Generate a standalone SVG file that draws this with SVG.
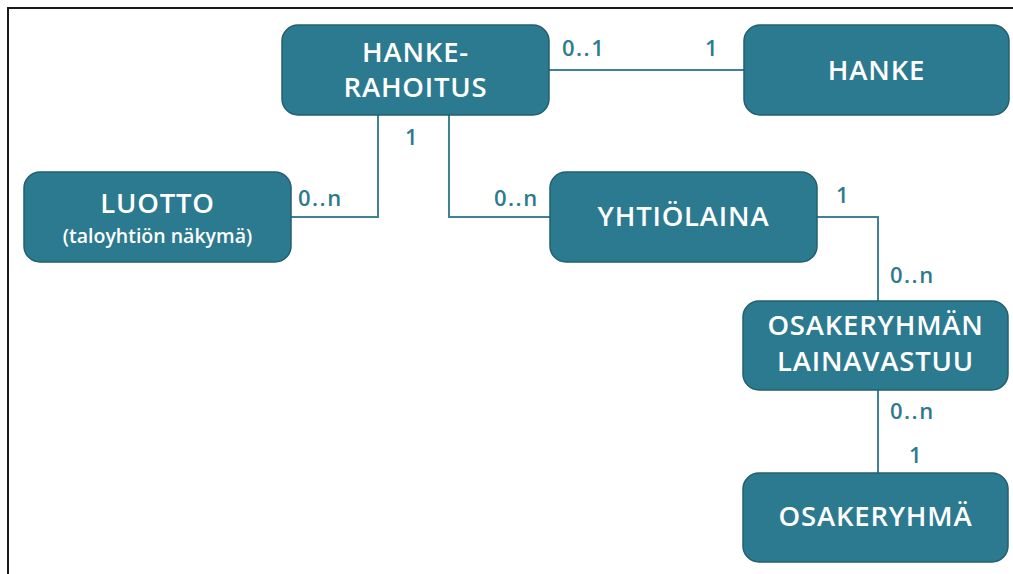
<svg xmlns="http://www.w3.org/2000/svg" width="1013" height="574" viewBox="0 0 1013 574">
<style>
.node rect{fill:#2b7a8f;stroke:#22606f;stroke-width:1.5}
.node text{fill:#ffffff;font-family:"Open Sans","DejaVu Sans",sans-serif;font-size:27.5px;font-weight:600;text-anchor:middle;letter-spacing:0.8px}
.node text.sub{font-size:19.5px;letter-spacing:0}
.conn path{fill:none;stroke:#3f8294;stroke-width:2}
.lbl{fill:#2e7b8e;font-family:"Open Sans","DejaVu Sans",sans-serif;font-size:22px;font-weight:600;letter-spacing:1.5px}
</style>
<rect x="0" y="0" width="1013" height="574" fill="#ffffff"/>
<path d="M8,574 V8 H1013" fill="none" stroke="#1a1a1a" stroke-width="2"/>
<g id="connectors" class="conn">
<path d="M549,70 H744"/>
<path d="M378,115 V217 H291"/>
<path d="M449,115 V217 H550"/>
<path d="M817,217 H878 V301"/>
<path d="M878,390 V473"/>
</g>
<g id="labels">
<text class="lbl" x="562" y="56">0..1</text>
<text class="lbl" x="705" y="56">1</text>
<text class="lbl" x="405" y="145">1</text>
<text class="lbl" x="298" y="206">0..n</text>
<text class="lbl" x="494" y="206">0..n</text>
<text class="lbl" x="836" y="203">1</text>
<text class="lbl" x="890" y="283">0..n</text>
<text class="lbl" x="890" y="419">0..n</text>
<text class="lbl" x="909" y="463">1</text>
</g>
<g id="hankerahoitus" class="node">
<rect x="282" y="25" width="267" height="90" rx="16"/>
<text x="415.5" y="62">HANKE-</text>
<text x="415.5" y="97">RAHOITUS</text>
</g>
<g id="hanke" class="node">
<rect x="744" y="25" width="265" height="90" rx="16"/>
<text x="876.5" y="80">HANKE</text>
</g>
<g id="luotto" class="node">
<rect x="24" y="172" width="267" height="90" rx="16"/>
<text x="157.5" y="213">LUOTTO</text>
<text class="sub" x="157.5" y="243">(taloyhtiön näkymä)</text>
</g>
<g id="yhtiolaina" class="node">
<rect x="550" y="172" width="267" height="90" rx="16"/>
<text x="683.5" y="226">YHTIÖLAINA</text>
</g>
<g id="lainavastuu" class="node">
<rect x="743" y="301" width="265" height="89" rx="16"/>
<text x="875.5" y="335">OSAKERYHMÄN</text>
<text x="875.5" y="371">LAINAVASTUU</text>
</g>
<g id="osakeryhma" class="node">
<rect x="743" y="473" width="265" height="89" rx="16"/>
<text x="875.5" y="526">OSAKERYHMÄ</text>
</g>
</svg>
